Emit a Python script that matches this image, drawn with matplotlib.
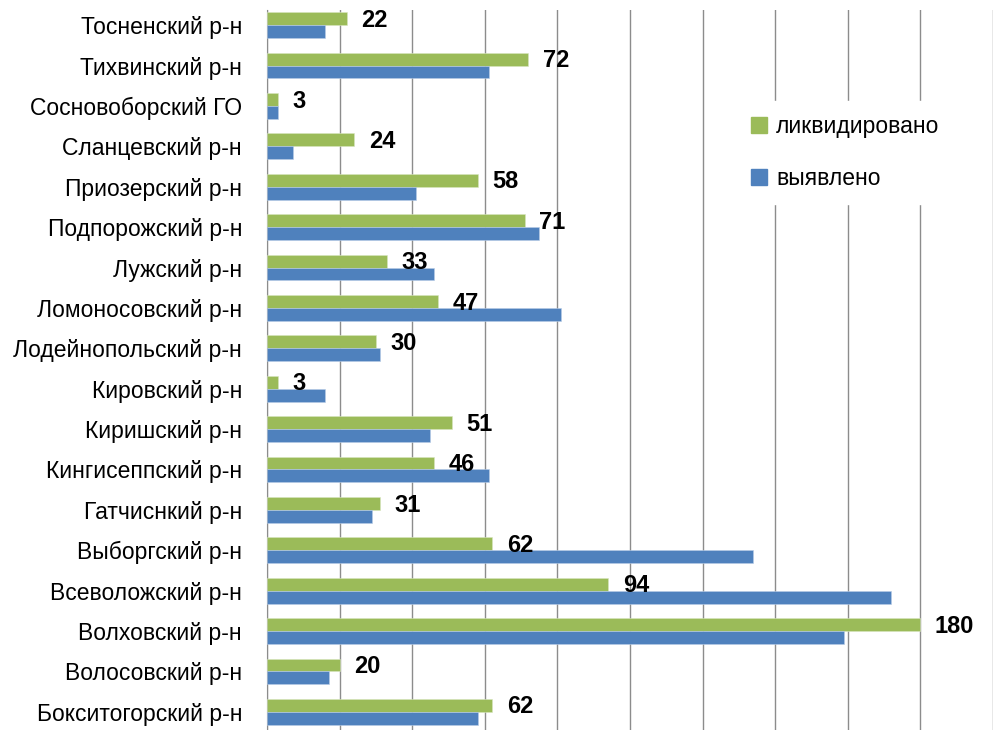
import numpy as np
import matplotlib
matplotlib.use('Agg')
import matplotlib.pyplot as plt
from matplotlib.patches import Patch

# districts, top to bottom as in the chart
DISTRICTS = [
    'Тосненский р-н', 'Тихвинский р-н', 'Сосновоборский ГО', 'Сланцевский р-н',
    'Приозерский р-н', 'Подпорожский р-н', 'Лужский р-н', 'Ломоносовский р-н',
    'Лодейнопольский р-н', 'Кировский р-н', 'Киришский р-н', 'Кингисеппский р-н',
    'Гатчиснкий р-н', 'Выборгский р-н', 'Всеволожский р-н', 'Волховский р-н',
    'Волосовский р-н', 'Бокситогорский р-н',
]
LIQUIDATED = [22, 72, 3, 24, 58, 71, 33, 47, 30, 3, 51, 46, 31, 62, 94, 180, 20, 62]
DETECTED = [16, 61, 3, 7, 41, 75, 46, 81, 31, 16, 45, 61, 29, 134, 172, 159, 17, 58]

GREEN = '#9BBB59'
BLUE = '#4F81BD'

plt.rcParams['font.family'] = ['Liberation Sans', 'DejaVu Sans']

fig = plt.figure(figsize=(9.93, 7.3), dpi=100)
ax = fig.add_axes([0.269, 0.0, 0.731, 0.986])

n = len(DISTRICTS)
y = np.arange(n)[::-1]
h = 0.32

ax.barh(y + h / 2, LIQUIDATED, height=h, color=GREEN, edgecolor='#d8e6c0', linewidth=0.4,
        label='ликвидировано', zorder=3)
ax.barh(y - h / 2, DETECTED, height=h, color=BLUE, edgecolor='#b9cde6', linewidth=0.4,
        label='выявлено', zorder=3)

for yi, v in zip(y, LIQUIDATED):
    ax.text(v + 4, yi + h / 2 - 0.04, str(v), ha='left', va='center',
            fontsize=17, fontweight='bold', color='black', zorder=4)

ax.set_xlim(0, 200)
ax.set_ylim(-0.45, n - 1 + 0.37)
ax.set_xticks(np.arange(0, 201, 20))
ax.set_xticklabels([])
ax.tick_params(axis='x', length=0)
ax.set_yticks(y)
ax.set_yticklabels(DISTRICTS, fontsize=16.5)
ax.tick_params(axis='y', length=0, pad=18)
ax.grid(axis='x', color='#8c8c8c', linewidth=1.0, zorder=0)

for s in ['top', 'right', 'bottom']:
    ax.spines[s].set_visible(False)
ax.spines['left'].set_color('#8c8c8c')

handles = [Patch(color=GREEN), Patch(color=BLUE)]
leg = ax.legend(handles, ['ликвидировано', 'выявлено'], loc='upper left',
                bbox_to_anchor=(0.632, 0.89), frameon=True, fancybox=False,
                edgecolor='white', facecolor='white', framealpha=1,
                fontsize=16.5, handlelength=0.7, handleheight=0.7,
                handletextpad=0.4, labelspacing=1.3, borderpad=0.6)
leg.set_zorder(5)

fig.savefig('out.png', dpi=100)
